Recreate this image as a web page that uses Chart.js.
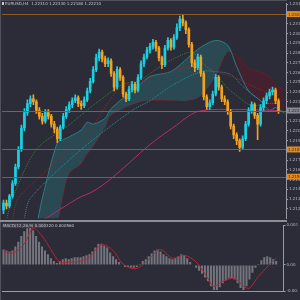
<!DOCTYPE html>
<html>
<head>
<meta charset="utf-8">
<script src="https://cdn.jsdelivr.net/npm/chart.js@4.4.1/dist/chart.umd.min.js"></script>
<style>
html, body { margin: 0; padding: 0; background: #2b2c37; }
#wrap { position: relative; width: 300px; height: 300px; background: #2b2c37; overflow: hidden; }
#main { position: absolute; left: 0; top: 0; }
#macd { position: absolute; left: 0; top: 222px; }
</style>
</head>
<body>
<div id="wrap">
  <canvas id="main" width="300" height="222"></canvas>
  <canvas id="macd" width="300" height="78"></canvas>
</div>
<script>
// ------------------------------------------------------------
// Datos (velas H4)
// ------------------------------------------------------------
const N_SLOTS = 95;   // 93 velas + hueco a la derecha

const opens = [1.2119,1.2126,1.2123,1.2133,1.2146,1.2163,1.2181,1.2203,1.2219,1.2228,
  1.2233,1.2230,1.2221,1.2215,1.2210,1.2219,1.2215,1.2207,1.2202,1.2192,
  1.2204,1.2215,1.2222,1.2227,1.2231,1.2234,1.2228,1.2226,1.2232,1.2241,
  1.2251,1.2263,1.2275,1.2281,1.2274,1.2269,1.2272,1.2259,1.2245,1.2263,
  1.2255,1.2238,1.2233,1.2243,1.2248,1.2242,1.2255,1.2269,1.2276,1.2283,
  1.2287,1.2291,1.2285,1.2275,1.2268,1.2285,1.2293,1.2286,1.2296,1.2306,
  1.2315,1.2311,1.2304,1.2289,1.2270,1.2265,1.2276,1.2259,1.2235,1.2225,
  1.2229,1.2238,1.2255,1.2245,1.2233,1.2230,1.2220,1.2205,1.2196,1.2190,
  1.2183,1.2192,1.2207,1.2221,1.2227,1.2216,1.2207,1.2224,1.2231,1.2236,
  1.2240,1.2242,1.2231];
const closes = [1.2126,1.2123,1.2133,1.2146,1.2163,1.2181,1.2203,1.2219,1.2228,1.2233,
  1.2230,1.2221,1.2215,1.2210,1.2219,1.2215,1.2207,1.2202,1.2192,1.2204,
  1.2215,1.2222,1.2227,1.2231,1.2234,1.2228,1.2226,1.2232,1.2241,1.2251,
  1.2263,1.2275,1.2281,1.2274,1.2269,1.2272,1.2259,1.2245,1.2263,1.2255,
  1.2238,1.2233,1.2243,1.2248,1.2242,1.2255,1.2269,1.2276,1.2283,1.2287,
  1.2291,1.2285,1.2275,1.2268,1.2285,1.2293,1.2286,1.2296,1.2306,1.2315,
  1.2311,1.2304,1.2289,1.2270,1.2265,1.2276,1.2259,1.2235,1.2225,1.2229,
  1.2238,1.2255,1.2245,1.2233,1.2230,1.2220,1.2205,1.2196,1.2190,1.2183,
  1.2192,1.2207,1.2221,1.2227,1.2216,1.2207,1.2224,1.2231,1.2236,1.2240,
  1.2242,1.2231,1.2221];
const highs = [1.2129,1.2129,1.2135,1.2149,1.2166,1.2184,1.2206,1.2223,1.2232,1.2236,
  1.2237,1.2232,1.2224,1.2218,1.2222,1.2222,1.2217,1.2210,1.2204,1.2206,
  1.2218,1.2225,1.2230,1.2234,1.2237,1.2236,1.2231,1.2235,1.2244,1.2254,
  1.2266,1.2279,1.2284,1.2283,1.2277,1.2275,1.2274,1.2261,1.2266,1.2265,
  1.2257,1.2240,1.2246,1.2251,1.2250,1.2258,1.2272,1.2279,1.2286,1.2290,
  1.2294,1.2293,1.2287,1.2277,1.2288,1.2296,1.2295,1.2299,1.2310,1.2318,
  1.2319,1.2313,1.2306,1.2291,1.2273,1.2279,1.2278,1.2261,1.2237,1.2232,
  1.2241,1.2258,1.2257,1.2247,1.2236,1.2232,1.2222,1.2207,1.2198,1.2192,
  1.2195,1.2210,1.2224,1.2230,1.2229,1.2218,1.2227,1.2234,1.2239,1.2243,
  1.2245,1.2244,1.2233];
const lows = [1.2115,1.2120,1.2121,1.2131,1.2144,1.2161,1.2179,1.2200,1.2216,1.2225,
  1.2227,1.2218,1.2212,1.2207,1.2208,1.2212,1.2204,1.2198,1.2188,1.2190,
  1.2202,1.2213,1.2219,1.2224,1.2229,1.2225,1.2222,1.2224,1.2230,1.2239,
  1.2249,1.2261,1.2272,1.2271,1.2266,1.2266,1.2256,1.2241,1.2243,1.2252,
  1.2235,1.2230,1.2231,1.2240,1.2239,1.2240,1.2253,1.2266,1.2274,1.2280,
  1.2284,1.2282,1.2272,1.2264,1.2266,1.2283,1.2283,1.2284,1.2294,1.2303,
  1.2308,1.2300,1.2286,1.2266,1.2261,1.2263,1.2256,1.2232,1.2222,1.2222,
  1.2227,1.2236,1.2242,1.2230,1.2227,1.2217,1.2202,1.2192,1.2186,1.2179,
  1.2181,1.2190,1.2205,1.2218,1.2213,1.2191,1.2205,1.2221,1.2228,1.2233,
  1.2237,1.2228,1.2218];

// Nube Ichimoku (mismos índices para las dos líneas)
const cloudIdx = [11,13,18,20,22,26,28,30,34,36,45,49,56,62,66,71,75,78,82,86,89,91,94];
const senkouA  = [1.2101,1.2131,1.2188,1.2191,1.2194,1.2201,1.2209,1.2207,1.2213,1.2223,1.2246,1.2256,1.2261,1.2276,1.2286,1.2293,1.2288,1.2266,1.2241,1.2231,1.2221,1.2224,1.2218];
const senkouB  = [1.2071,1.2081,1.2106,1.2134,1.2156,1.2166,1.2176,1.2184,1.2203,1.2216,1.2229,1.2231,1.2231,1.2231,1.2236,1.2256,1.2281,1.2276,1.2264,1.2260,1.2256,1.2248,1.2241];

// Medias / líneas
const magentaIdx = [13,25,30,36,49,57,65,79,92];
const magentaVal = [1.2108,1.2131,1.2138,1.2151,1.2186,1.2204,1.2220,1.2222,1.2221];
const greenIdx = [1,3,11,21,32,40,45,49,55,63,66,71,75,79,83,88,92];
const greenVal = [1.2109,1.2131,1.2181,1.2204,1.2231,1.2248,1.2251,1.2259,1.2271,1.2281,1.2271,1.2258,1.2244,1.2234,1.2226,1.2228,1.2228];
const redIdx = [3,5,15,25,30,35,39,49,59,66,71,78,82,87,92];
const redVal = [1.2109,1.2131,1.2161,1.2191,1.2206,1.2229,1.2244,1.2254,1.2264,1.2268,1.2261,1.2254,1.2248,1.2241,1.2236];
const tealIdx = [7,9,26,43,49,56,66,71,76,80,86];
const tealVal = [1.2111,1.2131,1.2181,1.2221,1.2231,1.2246,1.2261,1.2261,1.2258,1.2246,1.2231];

// Niveles horizontales
const orangeLevels = [1.2320, 1.2181, 1.2153];
const priceTicks = [1.2330,1.2320,1.2310,1.2300,1.2290,1.2280,1.2270,1.2260,1.2250,1.2240,1.2230,
  1.2220,1.2210,1.2200,1.2190,1.2180,1.2170,1.2160,1.2150,1.2140,1.2130,1.2120];
const priceMin = 1.2110, priceMax = 1.2331;

// MACD
const macdHist = [0.00128,0.00120,0.00112,0.00120,0.00152,0.00192,0.00240,0.00280,0.00304,0.00312,
  0.00288,0.00240,0.00192,0.00152,0.00120,0.00088,0.00056,0.00032,0.00016,0.00032,
  0.00048,0.00056,0.00048,0.00056,0.00064,0.00064,0.00064,0.00072,0.00080,0.00088,
  0.00112,0.00144,0.00176,0.00176,0.00160,0.00144,0.00104,0.00072,0.00048,0.00024,
  0.00000,-0.00016,-0.00016,-0.00024,-0.00024,-0.00016,0.00008,0.00032,0.00048,0.00072,
  0.00096,0.00120,0.00128,0.00112,0.00088,0.00072,0.00056,0.00048,0.00056,0.00072,
  0.00088,0.00080,0.00056,0.00024,0.00000,-0.00024,-0.00048,-0.00072,-0.00104,-0.00136,
  -0.00176,-0.00208,-0.00208,-0.00184,-0.00152,-0.00128,-0.00112,-0.00112,-0.00120,-0.00152,
  -0.00192,-0.00208,-0.00176,-0.00120,-0.00064,-0.00024,0.00008,0.00040,0.00064,0.00072,
  0.00064,0.00048,0.00032];
const signalIdx = [0,3,7,10,13,16,19,22,26,29,33,37,40,44,47,50,53,57,61,65,69,71,74,78,81,83,86,89,92];
const signalVal = [0.00112,0.00096,0.00176,0.00304,0.00240,0.00128,0.00024,0.00024,0.00032,0.00064,
  0.00168,0.00120,0.00016,-0.00032,0,0.00072,0.00128,0.00056,0.00080,0.00024,
  -0.00112,-0.00176,-0.00136,-0.00112,-0.00176,-0.00192,-0.00096,-0.00016,0.00056];
const macdMin = -0.00216, macdMax = 0.00328;
const macdTicks = [0.00328, 0, -0.00216];

const dateIdx = [0,7,13,20,26,33,39,46,52,59,65,72,78,85,91];
const dateLabels = ['30 Nov 2020','2 Dec 16:00','7 Dec 08:00','10 Dec 00:00','14 Dec 16:00',
  '17 Dec 08:00','22 Dec 00:00','24 Dec 16:00','30 Dec 08:00','4 Jan 00:00','6 Jan 16:00',
  '11 Jan 08:00','14 Jan 00:00','18 Jan 16:00','21 Jan 08:00'];

const TITLE = 'EURUSD,H4  1.22310 1.22330 1.22180 1.22210';
const MACD_TITLE = 'MACD(12,26,9) 0.000320 0.000560';

// ------------------------------------------------------------
const BULL = '#1cd0e2';
const BEAR = '#f2a21e';
const AXIS = '#9a9aa2';
const TXT = '#b8b8c0';
const FONT = 'DejaVu Sans';

const slotLabels = Array.from({ length: N_SLOTS }, (_, i) => String(i));
const pts = (idx, vals) => idx.map((k, j) => ({ x: String(k), y: vals[j] }));
const candleColor = ctx => closes[ctx.dataIndex] >= opens[ctx.dataIndex] ? BULL : BEAR;

function lineDs(data, color, dash, order) {
    return {
        type: 'line', data: data, borderColor: color, borderWidth: 1,
        borderDash: dash, pointRadius: 0, tension: 0.3, fill: false, order: order
    };
}

function axisBox(ctx, y, bg, fg, text) {
    ctx.fillStyle = bg;
    ctx.fillRect(287, y - 3, 13, 6);
    ctx.fillStyle = fg;
    ctx.font = `4px '${FONT}'`;
    ctx.textAlign = 'left';
    ctx.textBaseline = 'middle';
    ctx.fillText(text, 288, y + 0.5);
}

const mainOverlay = {
    id: 'mainOverlay',
    afterDatasetsDraw(chart) {
        const { ctx, chartArea, scales } = chart;
        ctx.save();
        ctx.lineWidth = 1;
        orangeLevels.forEach(v => {
            const y = Math.round(scales.y.getPixelForValue(v)) + 0.5;
            ctx.strokeStyle = '#8f5b2b';
            ctx.beginPath(); ctx.moveTo(chartArea.left, y); ctx.lineTo(chartArea.right, y); ctx.stroke();
        });
        const last = closes[closes.length - 1];
        const yl = Math.round(scales.y.getPixelForValue(last)) + 0.5;
        ctx.strokeStyle = '#666672';
        ctx.beginPath(); ctx.moveTo(chartArea.left, yl); ctx.lineTo(chartArea.right, yl); ctx.stroke();
        ctx.restore();
    },
    afterDraw(chart) {
        const { ctx, scales } = chart;
        ctx.save();
        orangeLevels.forEach(v => axisBox(ctx, scales.y.getPixelForValue(v), '#e28a1c', '#2b2c37', v.toFixed(5)));
        const last = closes[closes.length - 1];
        axisBox(ctx, scales.y.getPixelForValue(last), '#8a8a94', '#1e1e26', last.toFixed(5));
        // marco y separador
        ctx.fillStyle = '#50515c';
        ctx.fillRect(0, 0, 1, 222);
        ctx.fillRect(0, 0, 287, 1);
        ctx.fillStyle = '#8d8d96';
        ctx.fillRect(0, 220, 287, 2);
        // título
        ctx.fillStyle = '#c8c8d0';
        ctx.font = `4px '${FONT}'`;
        ctx.textAlign = 'left';
        ctx.textBaseline = 'middle';
        ctx.fillRect(2, 2, 2, 3);
        ctx.fillText(TITLE, 5, 4);
        ctx.restore();
    }
};

const macdOverlay = {
    id: 'macdOverlay',
    afterDraw(chart) {
        const { ctx } = chart;
        ctx.save();
        ctx.fillStyle = '#50515c';
        ctx.fillRect(0, 0, 1, 78);
        ctx.fillStyle = '#3a3b46';
        ctx.fillRect(2, 1, 44, 5);
        ctx.fillStyle = '#c8c8d0';
        ctx.font = `4px '${FONT}'`;
        ctx.textAlign = 'left';
        ctx.textBaseline = 'middle';
        ctx.fillText(MACD_TITLE, 3, 3.5);
        ctx.restore();
    }
};

Chart.defaults.font.family = FONT;

new Chart(document.getElementById('main'), {
    type: 'bar',
    data: {
        labels: slotLabels,
        datasets: [
            {
                type: 'bar', data: lows.map((l, i) => [l, highs[i]]),
                backgroundColor: candleColor, barThickness: 1, grouped: false, order: 1
            },
            {
                type: 'bar', data: opens.map((o, i) => [o, closes[i]]),
                backgroundColor: candleColor, barThickness: 2,
                grouped: false, minBarLength: 1, order: 0
            },
            lineDs(pts(magentaIdx, magentaVal), '#b82a72', [], 4),
            lineDs(pts(greenIdx, greenVal), '#3a7f38', [1, 1], 3),
            lineDs(pts(redIdx, redVal), '#96262a', [1, 1], 3),
            lineDs(pts(tealIdx, tealVal), '#2a929b', [1, 1], 3),
            {
                type: 'line', data: pts(cloudIdx, senkouA), borderColor: '#2a7f88', borderWidth: 1,
                pointRadius: 0, tension: 0.3, order: 10,
                fill: { target: '+1', above: 'rgba(40,128,138,0.34)', below: 'rgba(100,20,34,0.42)' }
            },
            {
                type: 'line', data: pts(cloudIdx, senkouB), borderColor: '#6a1a26', borderWidth: 1,
                pointRadius: 0, tension: 0.3, fill: false, order: 11
            }
        ]
    },
    options: {
        responsive: false,
        animation: false,
        layout: { padding: { left: 2, top: 0, right: 0, bottom: 1 } },
        plugins: { legend: { display: false }, tooltip: { enabled: false } },
        scales: {
            x: { display: false, offset: true },
            y: {
                position: 'right', min: priceMin, max: priceMax,
                grid: { display: true, drawOnChartArea: false, drawTicks: true, tickLength: 2, color: AXIS },
                border: { display: true, color: AXIS },
                afterFit: s => { s.width = 14; },
                afterBuildTicks: s => { s.ticks = priceTicks.map(v => ({ value: v })); },
                ticks: { color: TXT, font: { size: 4 }, padding: 1, callback: v => v.toFixed(5) }
            }
        }
    },
    plugins: [mainOverlay]
});

new Chart(document.getElementById('macd'), {
    type: 'bar',
    data: {
        labels: slotLabels,
        datasets: [
            {
                type: 'line', data: pts(signalIdx, signalVal), borderColor: '#b82436', borderWidth: 1,
                pointRadius: 0, tension: 0.35, fill: false, order: 0
            },
            {
                type: 'bar', data: macdHist, backgroundColor: 'rgba(140,140,150,0.75)',
                barPercentage: 0.7, categoryPercentage: 1, order: 1
            }
        ]
    },
    options: {
        responsive: false,
        animation: false,
        layout: { padding: { left: 2, top: 1, right: 0, bottom: 0 } },
        plugins: { legend: { display: false }, tooltip: { enabled: false } },
        scales: {
            x: {
                offset: true,
                grid: { display: false },
                border: { display: true, color: AXIS },
                afterFit: s => { s.height = 9; },
                afterBuildTicks: s => { s.ticks = dateIdx.map(v => ({ value: v })); },
                ticks: {
                    autoSkip: false, maxRotation: 0, align: 'start', padding: 1,
                    color: TXT, font: { size: 4 }, callback: (v, k) => dateLabels[k]
                }
            },
            y: {
                position: 'right', min: macdMin, max: macdMax,
                grid: { display: true, drawOnChartArea: false, drawTicks: true, tickLength: 2, color: AXIS },
                border: { display: true, color: AXIS },
                afterFit: s => { s.width = 14; },
                afterBuildTicks: s => { s.ticks = macdTicks.map(v => ({ value: v })); },
                ticks: { color: TXT, font: { size: 4 }, padding: 1, callback: v => v === 0 ? '0.00' : v.toFixed(6) }
            }
        }
    },
    plugins: [macdOverlay]
});
</script>
</body>
</html>
